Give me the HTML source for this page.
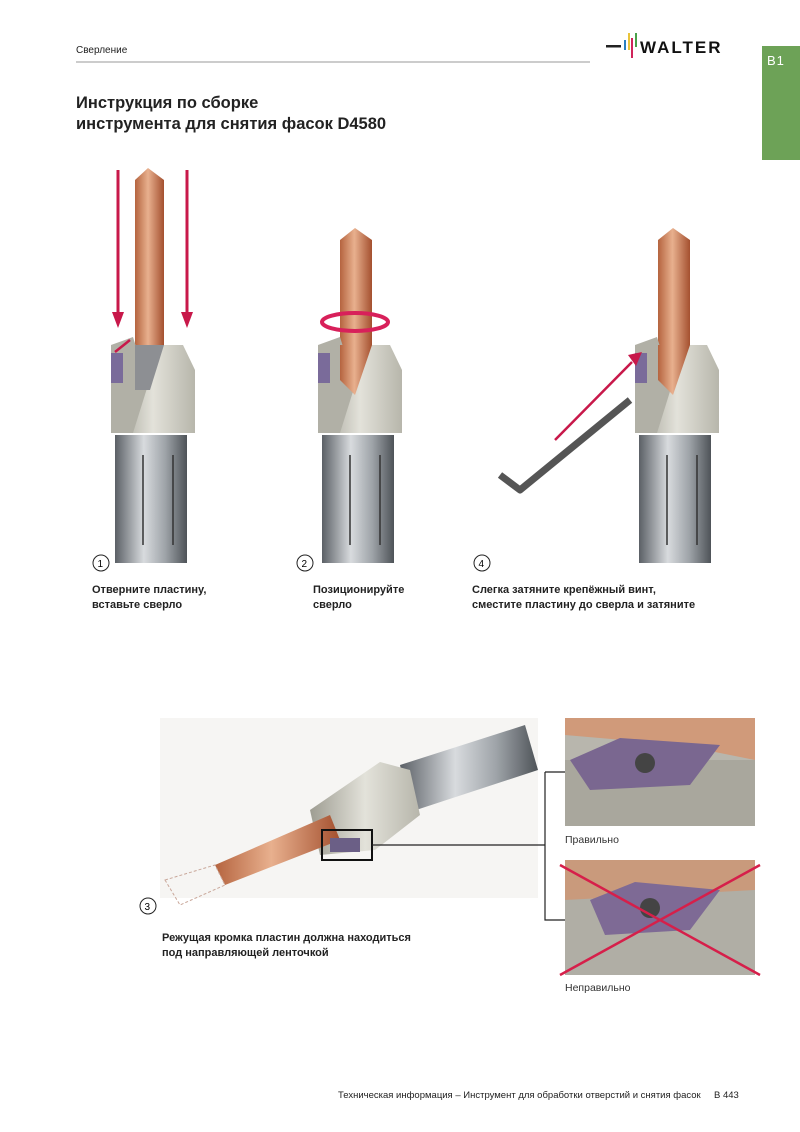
<!DOCTYPE html>
<html><head><meta charset="utf-8"><style>
body{margin:0;background:#fff;}
svg{display:block}
text{font-family:"Liberation Sans",sans-serif;}
</style></head><body>
<svg width="800" height="1132" viewBox="0 0 800 1132" xmlns="http://www.w3.org/2000/svg">
<defs>
<linearGradient id="cu" x1="0" x2="1"><stop offset="0" stop-color="#b5643f"/><stop offset=".45" stop-color="#e8b08e"/><stop offset="1" stop-color="#a4502f"/></linearGradient>
<linearGradient id="st" x1="0" x2="1"><stop offset="0" stop-color="#5b6066"/><stop offset=".4" stop-color="#d8dbde"/><stop offset=".7" stop-color="#9ea3a8"/><stop offset="1" stop-color="#4e5358"/></linearGradient>
<linearGradient id="co" x1="0" x2="1"><stop offset="0" stop-color="#9e9d92"/><stop offset=".5" stop-color="#e3e2da"/><stop offset="1" stop-color="#b7b6ab"/></linearGradient>
<g id="tool">
<rect x="-38" y="90" width="72" height="128" fill="url(#st)"/>
<line x1="-10" y1="110" x2="-10" y2="200" stroke="#333" stroke-width="1.5"/>
<line x1="20" y1="110" x2="20" y2="200" stroke="#333" stroke-width="1.5"/>
<path d="M-42,0 L30,0 L42,25 L42,88 L-42,88 Z" fill="url(#co)"/>
<path d="M-42,0 L-20,-8 L-5,40 L-20,88 L-42,88Z" fill="#b1b0a6"/>
<rect x="-42" y="8" width="12" height="30" fill="#7a6b9a"/>
</g>
</defs>
<!-- header -->
<text x="76" y="53" font-size="10" fill="#222">Сверление</text>
<line x1="76" y1="62" x2="590" y2="62" stroke="#999" stroke-width="1"/>
<rect x="606" y="45" width="15" height="2.5" fill="#222"/>
<rect x="624" y="40" width="2" height="10" fill="#2a7fc0"/>
<rect x="628" y="33" width="2" height="17" fill="#e9c43a"/>
<rect x="631" y="38" width="2" height="20" fill="#d0245a"/>
<rect x="635" y="33" width="2" height="14" fill="#4aa04a"/>
<text x="640" y="53" font-size="17" font-weight="bold" fill="#111" letter-spacing="2">WALTER</text>
<rect x="762" y="46" width="38" height="114" fill="#6da257"/>
<text x="767" y="65" font-size="13" fill="#fff" letter-spacing="1">B1</text>
<text x="76" y="108" font-size="16.5" font-weight="bold" fill="#222">Инструкция по сборке</text>
<text x="76" y="129" font-size="16.5" font-weight="bold" fill="#222">инструмента для снятия фасок D4580</text>
<!-- tool 1 -->
<path d="M135,180 L148,168 L164,180 L164,350 L135,350Z" fill="url(#cu)"/>
<use href="#tool" transform="translate(153,345)"/>
<path d="M135,345 L164,345 L150,390 L135,390Z" fill="#8d8f93"/>
<line x1="118" y1="170" x2="118" y2="315" stroke="#c8184a" stroke-width="3"/><path d="M112,312 L124,312 L118,328Z" fill="#c8184a"/>
<line x1="187" y1="170" x2="187" y2="315" stroke="#c8184a" stroke-width="3"/><path d="M181,312 L193,312 L187,328Z" fill="#c8184a"/>
<path d="M130,340 L115,352" stroke="#c8184a" stroke-width="2.5"/>
<!-- tool 2 -->
<path d="M340,240 L355,228 L372,240 L372,350 L340,350Z" fill="url(#cu)"/>
<use href="#tool" transform="translate(360,345)"/>
<path d="M340,345 L372,345 L355,395 L340,380Z" fill="url(#cu)"/>
<ellipse cx="355" cy="322" rx="33" ry="9" fill="none" stroke="#d8205a" stroke-width="4"/>
<!-- tool 4 -->
<path d="M658,240 L673,228 L690,240 L690,350 L658,350Z" fill="url(#cu)"/>
<use href="#tool" transform="translate(677,345)"/>
<path d="M658,345 L690,345 L673,395 L658,380Z" fill="url(#cu)"/>
<line x1="555" y1="440" x2="632" y2="362" stroke="#c8184a" stroke-width="2.5"/><path d="M628,355 L642,352 L636,366Z" fill="#c8184a"/>
<path d="M630,400 L520,490 L500,475" fill="none" stroke="#555" stroke-width="7" stroke-linejoin="round"/>
<!-- labels -->
<circle cx="101" cy="563" r="8" fill="none" stroke="#222"/><text x="97.5" y="567" font-size="10">1</text>
<circle cx="305" cy="563" r="8" fill="none" stroke="#222"/><text x="301.5" y="567" font-size="10">2</text>
<circle cx="482" cy="563" r="8" fill="none" stroke="#222"/><text x="478.5" y="567" font-size="10">4</text>
<g font-size="11" font-weight="bold" fill="#222">
<text x="92" y="593">Отверните пластину,</text><text x="92" y="608">вставьте сверло</text>
<text x="313" y="593">Позиционируйте</text><text x="313" y="608">сверло</text>
<text x="472" y="593">Слегка затяните крепёжный винт,</text><text x="472" y="608">сместите пластину до сверла и затяните</text>
</g>
<!-- bottom big image -->
<rect x="160" y="718" width="378" height="180" fill="#f6f5f3"/>
<path d="M400,765 L525,725 L538,770 L410,812Z" fill="url(#st)"/>
<path d="M310,810 L380,762 L410,770 L420,815 L375,850 L320,855Z" fill="url(#co)"/>
<path d="M215,865 L330,815 L340,840 L225,885Z" fill="url(#cu)"/>
<path d="M165,880 L215,865 L225,885 L180,905Z" fill="none" stroke="#c9a79a" stroke-width="1" stroke-dasharray="3,2"/>
<rect x="322" y="830" width="50" height="30" fill="none" stroke="#111" stroke-width="2"/>
<rect x="330" y="838" width="30" height="14" fill="#6b5f86"/>
<circle cx="148" cy="906" r="8" fill="none" stroke="#222"/><text x="144.5" y="910" font-size="10">3</text>
<text x="162" y="941" font-size="11" font-weight="bold" fill="#222">Режущая кромка пластин должна находиться</text>
<text x="162" y="956" font-size="11" font-weight="bold" fill="#222">под направляющей ленточкой</text>
<!-- connectors -->
<path d="M372,845 L545,845 M545,772 L565,772 M545,772 L545,920 L565,920" fill="none" stroke="#222" stroke-width="1.2"/>
<!-- inset 1 -->
<rect x="565" y="718" width="190" height="108" fill="#b8b6ad"/>
<path d="M565,718 L755,718 L755,760 L680,745 L565,735Z" fill="#d09a7a"/>
<path d="M565,760 L755,760 L755,826 L565,826Z" fill="#a9a79d"/>
<path d="M570,760 L620,738 L720,745 L690,785 L590,790Z" fill="#7a6790"/>
<circle cx="645" cy="763" r="10" fill="#444"/>
<text x="565" y="843" font-size="10.5" fill="#333">Правильно</text>
<!-- inset 2 -->
<rect x="565" y="860" width="190" height="115" fill="#b0aea5"/>
<path d="M565,860 L755,860 L755,890 L565,900Z" fill="#c99a7c"/>
<path d="M590,900 L635,882 L720,890 L690,930 L605,935Z" fill="#7e6a95"/>
<circle cx="650" cy="908" r="10" fill="#444"/>
<line x1="560" y1="865" x2="760" y2="975" stroke="#d61f4a" stroke-width="2.5"/>
<line x1="760" y1="865" x2="560" y2="975" stroke="#d61f4a" stroke-width="2.5"/>
<text x="565" y="991" font-size="10.5" fill="#333">Неправильно</text>
<!-- footer -->
<text x="338" y="1098" font-size="9.5" fill="#222">Техническая информация – Инструмент для обработки отверстий и снятия фасок</text>
<text x="714" y="1098" font-size="9.5" fill="#222">B 443</text>
</svg>
</body></html>
